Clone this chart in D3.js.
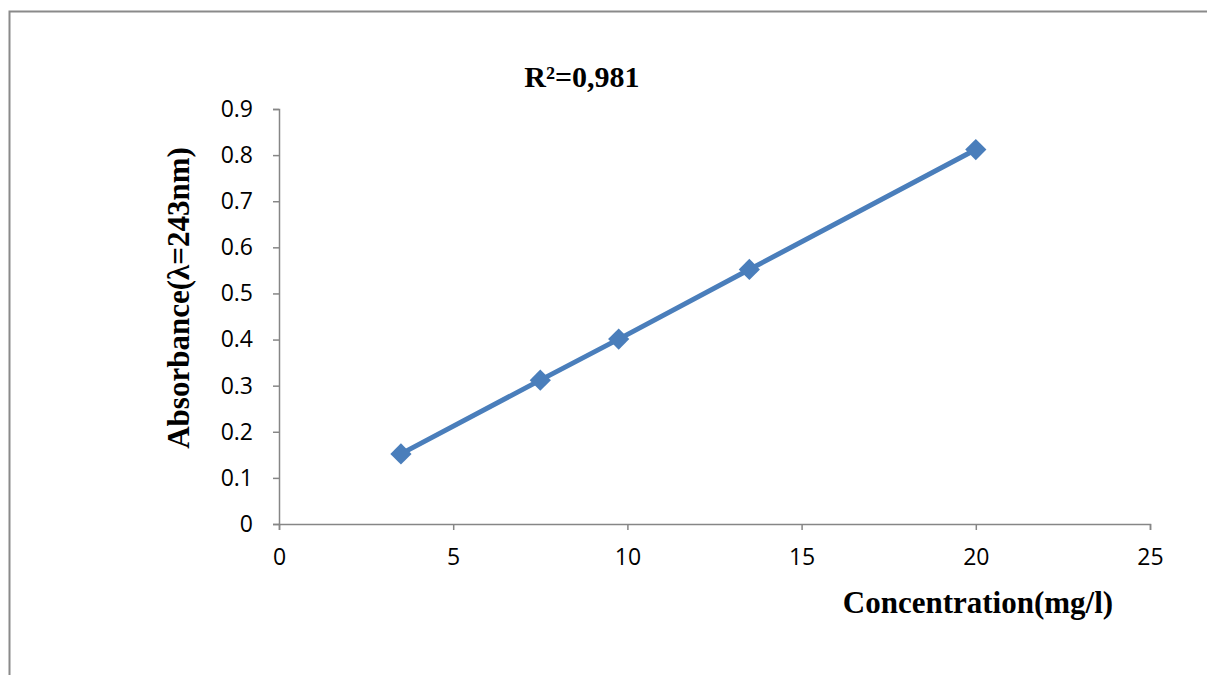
<!DOCTYPE html>
<html>
<head>
<meta charset="utf-8">
<script src="https://cdn.jsdelivr.net/npm/d3@7"></script>
<style>
  body { margin: 0; background: #fff; }
  svg { display: block; }
</style>
</head>
<body>
<div id="chart"></div>
<script>
// 数据
const concentration = [3.5, 7.5, 9.75, 13.5, 20];
const absorbance = [0.152, 0.312, 0.401, 0.552, 0.812];
const xTicks = [0, 5, 10, 15, 20, 25];
const yTicks = [0, 0.1, 0.2, 0.3, 0.4, 0.5, 0.6, 0.7, 0.8, 0.9];
const titleText = "R²=0,981";
const xTitle = "Concentration(mg/l)";
const yTitle = "Absorbance(λ=243nm)";

const width = 1207, height = 675;
const plot = { left: 279, right: 1150, top: 109, bottom: 524 };
const blue = "#4A7EBB";
const axisColor = "#868686";
const serif = "'Liberation Serif', 'Times New Roman', serif";

const svg = d3.select("#chart").append("svg")
    .attr("width", width)
    .attr("height", height);

// 外框
svg.append("rect")
    .attr("x", 9.5).attr("y", 11.5)
    .attr("width", 1250).attr("height", 700)
    .attr("fill", "none")
    .attr("stroke", "#8a8a8a")
    .attr("stroke-width", 2);

const x = d3.scaleLinear().domain([0, 25]).range([plot.left, plot.right]);
const y = d3.scaleLinear().domain([0, 0.9]).range([plot.bottom, plot.top]);

// x 轴
const xAxis = svg.append("g")
    .attr("transform", `translate(0,${plot.bottom})`)
    .call(d3.axisBottom(x).tickValues(xTicks).tickSize(6).tickPadding(19).tickFormat(d3.format("d")));

// y 轴
const yAxis = svg.append("g")
    .attr("transform", `translate(${plot.left},0)`)
    .call(d3.axisLeft(y).tickValues(yTicks).tickSize(6).tickPadding(20)
        .tickFormat(d => d === 0 ? "0" : d3.format(".1f")(d)));

[xAxis, yAxis].forEach(g => {
    g.select(".domain").attr("stroke", axisColor).attr("stroke-width", 1.5);
    g.selectAll(".tick line").attr("stroke", axisColor).attr("stroke-width", 1.5);
    g.selectAll(".tick text")
        .attr("fill", "#000")
        .style("font-family", "'Open Sans', 'Noto Sans', sans-serif")
        .style("font-size", "23px");
});

// 折线
const line = d3.line()
    .x((d, i) => x(concentration[i]))
    .y(d => y(d));

svg.append("path")
    .datum(absorbance)
    .attr("fill", "none")
    .attr("stroke", blue)
    .attr("stroke-width", 5)
    .attr("d", line);

// 菱形标记
svg.selectAll(".marker")
    .data(absorbance)
    .enter()
    .append("rect")
    .attr("class", "marker")
    .attr("x", -7.5).attr("y", -7.5)
    .attr("width", 15).attr("height", 15)
    .attr("fill", blue)
    .attr("transform", (d, i) => `translate(${x(concentration[i])},${y(d)}) rotate(45)`);

// 标题
svg.append("text")
    .attr("x", 582).attr("y", 87)
    .attr("text-anchor", "middle")
    .style("font-family", serif)
    .style("font-weight", "bold")
    .style("font-size", "30px")
    .text(titleText);

svg.append("text")
    .attr("x", 978).attr("y", 613)
    .attr("text-anchor", "middle")
    .style("font-family", serif)
    .style("font-weight", "bold")
    .style("font-size", "31px")
    .text(xTitle);

svg.append("text")
    .attr("transform", "translate(189,298) rotate(-90)")
    .attr("text-anchor", "middle")
    .style("font-family", serif)
    .style("font-weight", "bold")
    .style("font-size", "31px")
    .text(yTitle);
</script>
</body>
</html>
